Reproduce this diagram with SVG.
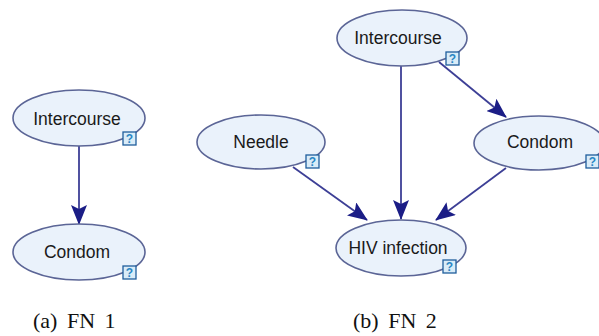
<svg xmlns="http://www.w3.org/2000/svg" width="599" height="336" viewBox="0 0 599 336">
  <style>
    .node ellipse { fill: #eaf2fb; stroke: #5b6596; stroke-width: 1.6; }
    .node text.label { font-family: "Liberation Sans", Arial, sans-serif; font-size: 17.5px; fill: #1a1a1a; text-anchor: middle; }
    .qbox rect { fill: #d9ecf8; stroke: #1f5e9c; stroke-width: 1.3; }
    .qbox text { font-family: "Liberation Sans", Arial, sans-serif; font-size: 12px; font-weight: bold; fill: #2a86c4; text-anchor: middle; }
    .edges line { stroke: #3d3f96; stroke-width: 1.8; marker-end: url(#arrow); }
    .caption { font-family: "Liberation Serif", "Times New Roman", serif; font-size: 22px; fill: #111; word-spacing: 4px; }
  </style>
  <defs>
    <marker id="arrow" markerUnits="userSpaceOnUse" markerWidth="20" markerHeight="16" viewBox="0 0 20 16" refX="19" refY="8" orient="auto">
      <path d="M0,0 L20,8 L0,16 L4,8 Z" fill="#1b1d86"/>
    </marker>
    <g id="q" class="qbox">
      <rect x="0" y="0" width="13" height="13"/>
      <text x="6.5" y="11">?</text>
    </g>
  </defs>
  <rect width="599" height="336" fill="#fff"/>

  <!-- connectors -->
  <g id="connectors" class="edges">
    <line x1="79" y1="146" x2="79" y2="224"/>
    <line x1="401" y1="66" x2="401" y2="219"/>
    <line x1="439" y1="62" x2="506" y2="117"/>
    <line x1="293" y1="167" x2="367" y2="220"/>
    <line x1="506" y1="168" x2="436" y2="220"/>
  </g>

  <!-- (a) FN 1 -->
  <g id="fn1-intercourse" class="node">
    <ellipse cx="79" cy="118" rx="66" ry="28"/>
    <text class="label" x="77" y="125">Intercourse</text>
    <use href="#q" x="123" y="132"/>
  </g>
  <g id="fn1-condom" class="node">
    <ellipse cx="79" cy="252" rx="66" ry="28"/>
    <text class="label" x="77" y="258">Condom</text>
    <use href="#q" x="123" y="266"/>
  </g>

  <!-- (b) FN 2 -->
  <g id="fn2-intercourse" class="node">
    <ellipse cx="402" cy="38" rx="65" ry="28"/>
    <text class="label" x="398" y="44">Intercourse</text>
    <use href="#q" x="446" y="52"/>
  </g>
  <g id="fn2-needle" class="node">
    <ellipse cx="261" cy="142" rx="64" ry="27"/>
    <text class="label" x="261" y="148">Needle</text>
    <use href="#q" x="306" y="155"/>
  </g>
  <g id="fn2-condom" class="node">
    <ellipse cx="539" cy="143" rx="65" ry="27"/>
    <text class="label" x="540" y="148">Condom</text>
    <use href="#q" x="586" y="155"/>
  </g>
  <g id="fn2-hiv" class="node">
    <ellipse cx="401" cy="248" rx="65" ry="28"/>
    <text class="label" x="398" y="254">HIV infection</text>
    <use href="#q" x="443" y="260"/>
  </g>

  <text class="caption" x="33" y="328">(a) FN 1</text>
  <text class="caption" x="353" y="328">(b) FN 2</text>
</svg>
